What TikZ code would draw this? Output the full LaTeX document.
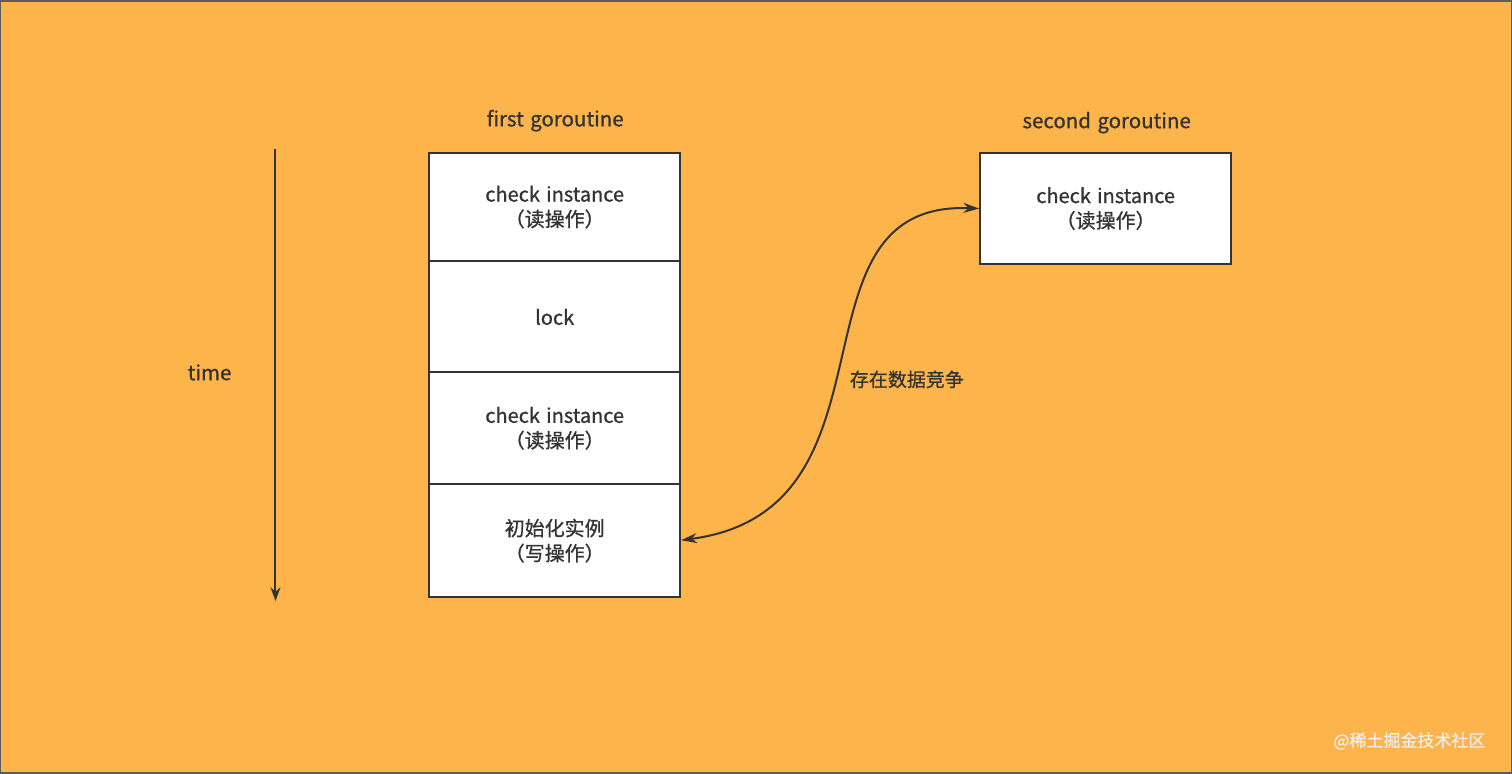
\documentclass[tikz,border=0pt]{standalone}
\usepackage{fontspec}
\setmainfont{Noto Sans CJK SC}[FakeBold=0.8,WordSpace=1.4]
\usetikzlibrary{arrows.meta}
\definecolor{bg}{HTML}{FDB54B}
\definecolor{ink}{HTML}{333333}
\begin{document}
\begin{tikzpicture}[x=1pt,y=-1pt,
  cell/.style={draw=ink,line width=2pt,fill=white,minimum width=251pt,align=center,font=\fontsize{20}{25}\selectfont,text=ink,inner sep=0pt},
  lbl/.style={font=\fontsize{20.5}{24}\selectfont,text=ink}]
\fill[bg,draw=ink!80,line width=1.5pt] (0,0) rectangle (1512,773);
\useasboundingbox (0,0) rectangle (1512,773);
\node[cell,minimum height=109pt] (c1) at (554.5,206.5) {check instance\\（读操作）};
\node[cell,minimum height=111pt] (c2) at (554.5,316.5) {lock};
\node[cell,minimum height=112pt] (c3) at (554.5,428) {check instance\\（读操作）};
\node[cell,minimum height=113pt] (c4) at (554.5,540.5) {初始化实例\\（写操作）};
\node[cell,minimum height=112pt] (s1) at (1106,208) {check instance\\（读操作）};
\node[lbl] (t1) at (555,120) {first goroutine};
\node[lbl] (t2) at (1107,122) {second goroutine};
\node[lbl] (tm) at (209,372) {time};
\coordinate (a0) at (275,148);
\coordinate (a1) at (275,601);
\draw[ink,line width=2pt,-{Stealth[length=14pt,width=10pt]}] (a0) -- (a1);
\draw[ink,line width=2pt,{Stealth[length=16pt,width=10pt]}-{Stealth[length=16pt,width=10pt]}] (c4.east |- 0,540) .. controls (910,510) and (780,200) .. (s1.west |- 0,208);
\node[lbl,font=\fontsize{19}{22}\selectfont] (race) at (907,379) {存在数据竞争};
\node[font=\fontsize{17}{20}\selectfont,text=white!85!gray] (wm) at (1410,741) {@稀土掘金技术社区};
\end{tikzpicture}
\end{document}
